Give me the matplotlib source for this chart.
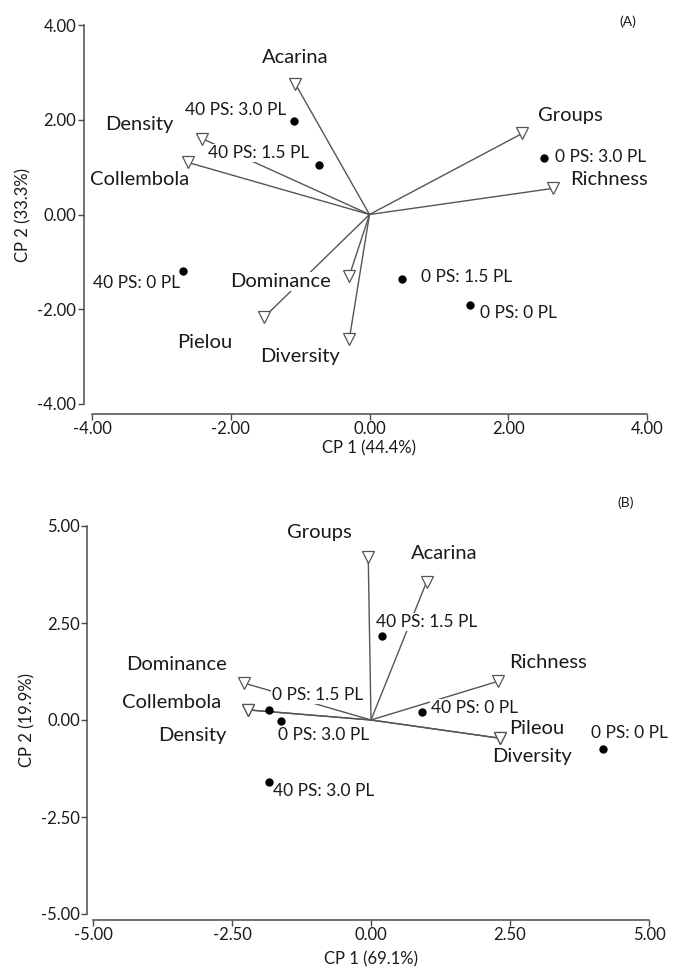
import matplotlib
matplotlib.use("Agg")
import matplotlib.pyplot as plt
from matplotlib.ticker import FormatStrFormatter, MultipleLocator

plt.rcParams["font.family"] = ["Lato", "DejaVu Sans"]

# treatment scores
treatments = ["40 PS: 3.0 PL", "40 PS: 1.5 PL", "0 PS: 3.0 PL",
              "40 PS: 0 PL", "0 PS: 1.5 PL", "0 PS: 0 PL"]
a_pts_x = [-1.09, -0.73, 2.51, -2.69, 0.47, 1.45]
a_pts_y = [1.98, 1.05, 1.20, -1.20, -1.36, -1.92]
b_pts_x = [-1.83, 0.20, -1.62, 0.91, -1.83, 4.17]
b_pts_y = [-1.59, 2.16, -0.03, 0.20, 0.26, -0.75]

# variable loadings
a_vars = ["Acarina", "Density", "Collembola", "Groups", "Richness",
          "Dominance", "Diversity", "Pielou"]
a_var_x = [-1.07, -2.41, -2.62, 2.20, 2.64, -0.29, -0.29, -1.52]
a_var_y = [2.76, 1.60, 1.10, 1.71, 0.55, -1.29, -2.62, -2.17]

b_vars = ["Groups", "Acarina", "Richness", "Diversity", "Pileou",
          "Dominance", "Collembola", "Density"]
b_var_x = [-0.05, 1.00, 2.29, 2.32, 2.32, -2.28, -2.21, -2.21]
b_var_y = [4.20, 3.56, 1.00, -0.47, -0.47, 0.95, 0.26, 0.26]

# label anchors (left / centre), data units
a_pt_lab = [(-2.66, 2.21), (-2.33, 1.30), (2.67, 1.21),
            (-3.99, -1.45), (0.74, -1.32), (1.59, -2.08)]
a_var_lab = [(-1.55, 3.32), (-3.81, 1.91), (-4.03, 0.73), (2.43, 2.10),
             (2.89, 0.73), (-2.01, -1.42), (-1.58, -2.99), (-2.77, -2.71)]
b_pt_lab = [(-1.76, -1.83), (0.09, 2.53), (-1.67, -0.39),
            (1.08, 0.31), (-1.78, 0.64), (3.96, -0.34)]
b_var_lab = [(-1.51, 4.82), (0.72, 4.30), (2.48, 1.49), (2.18, -0.95),
             (2.48, -0.21), (-4.41, 1.42), (-4.48, 0.44), (-3.83, -0.39)]

LINE = "#555555"
SPINE = "#4a4a4a"
TXT = "#1a1a1a"


def biplot(ax, names, vx, vy, vlab, px, py, plab, lim, step, out_l, out_b):
    for n, x, y, (lx, ly) in zip(names, vx, vy, vlab):
        ax.plot([0, x], [0, y], color=LINE, lw=1.0, zorder=1)
        ax.plot(x, y, marker="v", ms=8, mfc="white", mec=LINE, mew=0.9, zorder=4)
        ax.text(lx, ly, n, fontsize=14.5, color=TXT, ha="left", va="center",
                zorder=3, bbox=dict(fc="white", ec="none", pad=0.6))
    for n, x, y, (lx, ly) in zip(treatments, px, py, plab):
        ax.plot(x, y, "o", ms=5, color="black", zorder=5)
        ax.text(lx, ly, n, fontsize=12.5, color=TXT, ha="left", va="center",
                zorder=3, bbox=dict(fc="white", ec="none", pad=0.6))

    ax.set_xlim(-lim, lim)
    ax.set_ylim(-lim, lim)
    ax.xaxis.set_major_locator(MultipleLocator(step))
    ax.yaxis.set_major_locator(MultipleLocator(step))
    ax.xaxis.set_major_formatter(FormatStrFormatter("%.2f"))
    ax.yaxis.set_major_formatter(FormatStrFormatter("%.2f"))
    for s in ["top", "right"]:
        ax.spines[s].set_visible(False)
    ax.spines["left"].set_position(("outward", out_l))
    ax.spines["bottom"].set_position(("outward", out_b))
    for s in ["left", "bottom"]:
        ax.spines[s].set_color(SPINE)
        ax.spines[s].set_linewidth(1.1)
    ax.tick_params(length=4, width=1.0, color=SPINE, labelsize=12,
                   labelcolor=TXT, pad=1.5)


fig = plt.figure(figsize=(6.81, 9.69), dpi=100)

axA = fig.add_axes([92 / 681, 1 - 404 / 969, 555 / 681, 379 / 969])
biplot(axA, a_vars, a_var_x, a_var_y, a_var_lab, a_pts_x, a_pts_y, a_pt_lab,
       4, 2, 6, 7)
axA.set_xlabel("CP 1 (44.4%)", fontsize=12, color=TXT, labelpad=2)
axA.set_ylabel("CP 2 (33.3%)", fontsize=12, color=TXT, labelpad=4)
fig.text(628 / 681, 1 - 22 / 969, "(A)", fontsize=10, color=TXT,
         ha="center", va="center")

axB = fig.add_axes([93 / 681, 1 - 914 / 969, 556 / 681, 388 / 969])
biplot(axB, b_vars, b_var_x, b_var_y, b_var_lab, b_pts_x, b_pts_y, b_pt_lab,
       5, 2.5, 4, 4)
axB.set_xlabel("CP 1 (69.1%)", fontsize=12, color=TXT, labelpad=6)
axB.set_ylabel("CP 2 (19.9%)", fontsize=12, color=TXT, labelpad=4)
fig.text(626 / 681, 1 - 503 / 969, "(B)", fontsize=10, color=TXT,
         ha="center", va="center")

fig.savefig("out.png", dpi=100)
